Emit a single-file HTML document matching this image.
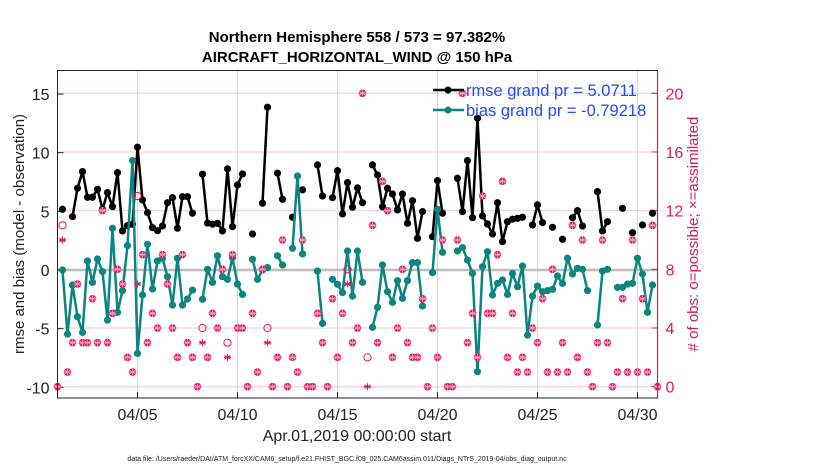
<!DOCTYPE html>
<html><head><meta charset="utf-8">
<style>
body{margin:0;background:#fff;width:830px;height:470px;overflow:hidden;font-family:"Liberation Sans",Arial,sans-serif}
svg{display:block}
</style></head>
<body>
<svg id="chart" width="830" height="470" viewBox="0 0 830 470" xmlns="http://www.w3.org/2000/svg">
<text x="357" y="42" text-anchor="middle" font-size="15" font-weight="bold" font-family="Liberation Sans, sans-serif">Northern Hemisphere 558 / 573 = 97.382%</text>
<text x="357" y="62" text-anchor="middle" font-size="15" font-weight="bold" font-family="Liberation Sans, sans-serif">AIRCRAFT_HORIZONTAL_WIND @ 150 hPa</text>
<g id="grid"></g>
<g id="axes"></g>
<g id="series"></g>
<g id="obs"></g>
<rect x="57.5" y="70.5" width="600" height="327.5" fill="none" stroke="#222" stroke-width="1"/>
<line x1="657.5" y1="70.5" x2="657.5" y2="398" stroke="#d81b60" stroke-width="1.2"/>
<text transform="translate(24,234) rotate(-90)" text-anchor="middle" font-size="15" fill="#222">rmse and bias (model - observation)</text>
<text transform="translate(698,234) rotate(-90)" text-anchor="middle" font-size="15" fill="#d81b60"># of obs: o=possible; ×=assimilated</text>
<text x="357" y="441" text-anchor="middle" font-size="16" fill="#222">Apr.01,2019 00:00:00 start</text>
<text x="347" y="461" text-anchor="middle" font-size="7" fill="#222">data file: /Users/raeder/DAI/ATM_forcXX/CAM6_setup/f.e21.FHIST_BGC.f09_025.CAM6assim.011/Diags_NTrS_2019-04/obs_diag_output.nc</text>
<g id="legend">
<line x1="433" y1="90" x2="464" y2="90" stroke="#000" stroke-width="2.5"/>
<circle cx="448" cy="90" r="3.5" fill="#000"/>
<text x="466" y="96" font-size="16.5" fill="#1f4cff">rmse grand pr = 5.0711</text>
<line x1="433" y1="110" x2="464" y2="110" stroke="#0b8582" stroke-width="2.5"/>
<circle cx="448" cy="110" r="3.5" fill="#0b8582"/>
<text x="466" y="116" font-size="16.5" fill="#1f4cff">bias grand pr = -0.79218</text>
</g>
</svg>
<script>
// index 0 = 04/01 00Z, every 6 hours
const rmse = [null,5.18,null,4.55,6.97,8.39,6.2,6.2,6.88,5.18,6.6,5.4,8.3,3.33,3.78,3.9,10.47,5.97,4.89,3.61,3.35,3.75,5.74,6.17,3.56,6.25,6.25,4.84,null,8.17,4.0,3.9,3.98,3.33,8.62,3.7,7.25,8.19,null,3.07,null,5.69,13.88,null,8.25,6.03,null,4.5,null,6.83,null,null,8.96,6.31,null,6.17,8.47,4.78,7.45,5.35,7.0,5.74,null,8.96,8.1,5.4,6.97,6.48,5.12,6.48,3.98,5.91,2.7,4.98,null,2.84,7.62,4.84,null,null,7.82,4.98,9.33,4.46,12.94,4.61,3.92,3.07,5.74,2.42,4.12,4.33,4.4,4.5,null,3.84,5.55,4.04,null,3.64,null,2.62,null,4.46,5.06,3.75,null,null,6.68,3.33,4.12,null,null,5.26,null,3.18,null,3.84,null,4.84,null];
const bias = [null,0,-5.46,-1.28,-3.98,-5.32,0.77,-1.05,0.94,-0.14,-4.27,3.56,-3.61,-1.76,2.08,9.33,-7.11,-2.13,2.19,-1.62,0.77,1.0,-0.57,-2.99,1.0,-2.99,-2.47,-1.71,null,-2.5,0.06,-1.05,1.22,-0.57,-0.8,1.05,-1.2,-2.08,null,0.91,-0.8,0,0.2,null,1.22,0.43,null,1.85,8.02,1.37,null,null,-0.09,-4.55,null,-0.8,-1.22,-1.93,1.62,-2.22,1.62,-1.05,null,-4.89,-3.18,0.43,-1.85,-2.76,-0.91,-2.42,-0.91,0.63,0.63,-3.07,null,-0.23,5.18,1.51,null,null,1.62,1.91,0.85,-0.28,-8.67,0.28,1.56,-2.13,-1.14,-0.85,-2.08,-0.3,-1.42,0.34,-5.55,-2.22,-1.37,-1.85,-1.76,-1.65,-0.51,-1.14,1.0,-0.34,0.14,0.06,-1.76,null,-4.69,-0.09,0.06,null,-1.48,-1.48,-1.2,-1.14,1.0,-0.34,-3.61,-1.28,null];
const nPossible = [0,11,1,3,7,3,3,6,3,12,3,5,8,7,2,1,13,9,3,5,4,9,7,4,2,9,3,2,0,4,2,5,4,8,3,9,4,4,0,5,1,8,4,0,2,10,0,2,1,10,0,0,5,3,0,6,2,5,8,3,4,20,2,11,3,14,12,2,4,8,3,2,2,6,0,4,2,10,0,0,10,20,3,5,2,13,5,5,9,14,2,5,1,2,1,4,3,6,1,8,1,3,1,11,2,10,1,0,3,10,3,0,1,6,1,10,1,6,1,11,0];
const nAssim = [0,10,1,3,7,3,3,6,3,12,3,5,8,7,2,1,7,9,3,5,4,9,7,4,2,9,3,2,0,3,2,5,4,8,2,9,4,4,0,5,1,8,3,0,2,10,0,2,1,10,0,0,5,3,0,6,2,5,7,3,4,20,0,11,3,14,12,2,4,8,3,2,2,6,0,4,2,10,0,0,10,20,3,5,2,13,5,5,9,14,2,5,1,2,1,4,3,6,1,8,1,3,1,11,2,10,1,0,3,10,3,0,1,6,1,10,1,6,1,11,0];
const leftTicks = [15,10,5,0,-5,-10];
const rightTicks = [20,16,12,8,4,0];
const dateTicks = ["04/05","04/10","04/15","04/20","04/25","04/30"];
const dateTickDays = [4,9,14,19,24,29];

const NS="http://www.w3.org/2000/svg";
const X0=57.5, X1=657.5, Ytop=70.5, Ybot=398;
const xDay = d => X0 + d*20;
const xIdx = i => xDay(i/4);
const yL = v => 270 - v*11.73;
const yR = n => 386.7 - n*14.67;
function mk(tag, attrs, parent){const e=document.createElementNS(NS,tag);for(const k in attrs)e.setAttribute(k,attrs[k]);parent.appendChild(e);return e;}
const grid=document.getElementById('grid'), axes=document.getElementById('axes'), series=document.getElementById('series'), obs=document.getElementById('obs');

rightTicks.forEach(n=>{
  const g=mk('line',{x1:X0,x2:X1,y1:yR(n),y2:yR(n),stroke:'#f5c6d6','stroke-width':1},grid);
  
  
});
dateTickDays.forEach((d,k)=>{
  const g=mk('line',{x1:xDay(d),x2:xDay(d),y1:Ytop,y2:Ybot,stroke:'#d6d6d6','stroke-width':1},grid);
  
  
  const t=mk('line',{x1:xDay(d),x2:xDay(d),y1:Ybot,y2:Ybot-6,stroke:'#222'},axes);
  
  
  const l=mk('text',{x:xDay(d),y:Ybot+22,'text-anchor':'middle','font-size':16,fill:'#222'},axes);
  l.textContent=dateTicks[k];
  
  
});
const zl=mk('line',{x1:X0,x2:X1,y1:yL(0),y2:yL(0),stroke:'#bdbdbd','stroke-width':2.5},grid);


leftTicks.forEach(v=>{
  const t=mk('line',{x1:X0,x2:X0+6,y1:yL(v),y2:yL(v),stroke:'#222'},axes);
  
  
  const l=mk('text',{x:X0-8,y:yL(v)+6,'text-anchor':'end','font-size':16,fill:'#222'},axes);
  l.textContent=v;
  
  
});
rightTicks.forEach(n=>{
  const t=mk('line',{x1:X1-6,x2:X1,y1:yR(n),y2:yR(n),stroke:'#d81b60'},axes);
  
  
  const l=mk('text',{x:X1+8,y:yR(n)+6,'font-size':16,fill:'#d81b60'},axes);
  l.textContent=n;
  
  
});

function drawSeries(arr,color,name){
  let seg=[];
  const flush=()=>{ if(seg.length>1){const p=mk('polyline',{points:seg.join(' '),fill:'none',stroke:color,'stroke-width':2.5,'stroke-linejoin':'round'},series);
    
    } seg=[]; };
  arr.forEach((v,i)=>{ if(v===null){flush();return;} seg.push(xIdx(i).toFixed(1)+','+yL(v).toFixed(1)); });
  flush();
  arr.forEach((v,i)=>{ if(v===null)return;
    const c=mk('circle',{cx:xIdx(i),cy:yL(v),r:3.6,fill:color},series);
    
    
  });
}
drawSeries(rmse,'#000','rmse');
drawSeries(bias,'#0b8582','bias');

const PK='#e0185e';
function star(x,y,col,w){
  const g=mk('g',{stroke:col,'stroke-width':w},obs);
  
  
  for(let a=0;a<3;a++){const t=a*Math.PI/3+Math.PI/2;mk('line',{x1:x-3.5*Math.cos(t),y1:y-3.5*Math.sin(t),x2:x+3.5*Math.cos(t),y2:y+3.5*Math.sin(t)},g);}
  mk('line',{x1:x-3.5,y1:y,x2:x+3.5,y2:y},g);
}
nPossible.forEach((n,i)=>{
  const a=nAssim[i], x=xIdx(i);
  if(n===a){
    const c=mk('circle',{cx:x,cy:yR(n),r:3.8,fill:PK},obs);
    
    
    star(x,yR(n),'#f7a8c4',0.8);
  } else {
    const c=mk('circle',{cx:x,cy:yR(n),r:3.6,fill:'none',stroke:PK,'stroke-width':1},obs);
    
    
    star(x,yR(a),PK,1.1);
  }
});
</script>
</body></html>
